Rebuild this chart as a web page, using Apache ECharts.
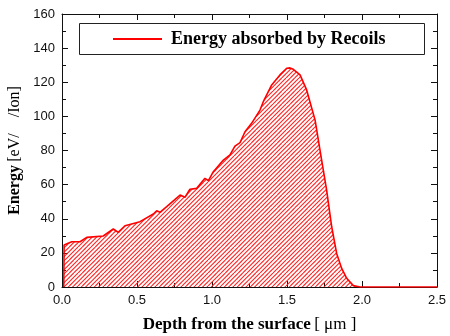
<!DOCTYPE html>
<html>
<head>
<meta charset="utf-8">
<script src="https://cdn.jsdelivr.net/npm/echarts@6/dist/echarts.min.js"></script>
<style>
  html, body { margin: 0; padding: 0; background: #fff; }
  #chart { width: 450px; height: 336px; }
</style>
</head>
<body>
<div id="chart"></div>
<script>
// depth (um) and energy (eV/Ion)
const depth = [0.012, 0.014, 0.065, 0.12, 0.165, 0.275, 0.342, 0.375, 0.42, 0.52, 0.609, 0.631, 0.653, 0.698,
  0.787, 0.82, 0.853, 0.898, 0.953, 0.976, 1.009, 1.076, 1.12, 1.153, 1.187, 1.22, 1.264, 1.32, 1.342,
  1.398, 1.453, 1.498, 1.52, 1.542, 1.587, 1.631, 1.687, 1.731, 1.764, 1.798, 1.831, 1.864, 1.898, 1.942,
  1.987, 2.5]
const energy = [0, 24.6, 26.5, 26.5, 29.1, 29.9, 34, 32, 35.9, 38.3, 42.8, 44.7, 43.8, 47.1,
  53.9, 52.6, 57.3, 57.8, 63.7, 62.3, 67.6, 74.4, 77.4, 82.6, 84.6, 91.0, 95.9, 103.7, 108.6,
  118.4, 124.3, 128.2, 128.4, 127.6, 124.3, 115.5, 97.9, 74.4, 56.9, 35.3, 19.7, 11.0, 5.1, 0.8,
  0, 0]
const seriesName = 'Energy absorbed by Recoils'

// hatch pattern for the area
function makeHatch () {
  const size = 13
  const c = document.createElement('canvas')
  c.width = size
  c.height = size
  const ctx = c.getContext('2d')
  ctx.strokeStyle = '#ff2020'
  ctx.lineWidth = 1.1
  for (let k = -3; k <= 3; k++) {
    const off = k * size / 3
    ctx.beginPath()
    ctx.moveTo(off, size)
    ctx.lineTo(off + size, 0)
    ctx.stroke()
  }
  return c
}

const serif = '"Liberation Serif", "Times New Roman", serif'
const sans = '"Liberation Sans", Arial, sans-serif'
const axisLine = { show: true, onZero: false, lineStyle: { color: '#111', width: 1 } }

const option = {
  animation: false,
  grid: { left: 62, right: 13, top: 14, bottom: 49, show: false, outerBoundsMode: 'none', containLabel: false },
  legend: {
    data: [seriesName],
    left: 113,
    top: 30,
    padding: 0,
    z: 10,
    icon: 'rect',
    itemWidth: 49,
    itemHeight: 2,
    itemGap: 0,
    textStyle: { fontFamily: serif, fontWeight: 'bold', fontSize: 18, color: '#000', padding: [0, 0, 0, 4] }
  },
  graphic: [{
    type: 'rect',
    shape: { x: 79.5, y: 23.5, width: 345, height: 31 },
    style: { fill: '#fff', stroke: '#222', lineWidth: 1 },
    z: 1,
    silent: true
  }],
  xAxis: [
    {
      type: 'value',
      min: 0,
      max: 2.5,
      interval: 0.5,
      position: 'bottom',
      axisLine,
      axisTick: { show: true, inside: true, length: 6, lineStyle: { color: '#111' } },
      minorTick: { show: true, splitNumber: 2, length: 4, lineStyle: { color: '#111' } },
      splitLine: { show: false },
      axisLabel: { color: '#111', fontFamily: sans, fontSize: 13, margin: 7, formatter: v => v.toFixed(1) },
      name: '{b|Depth from the surface} {n|[ μm ]}',
      nameLocation: 'middle',
      nameGap: 29,
      nameTextStyle: {
        rich: {
          b: { fontFamily: serif, fontWeight: 'bold', fontSize: 17, color: '#000' },
          n: { fontFamily: serif, fontSize: 17, color: '#000' }
        }
      }
    },
    {
      type: 'value',
      min: 0,
      max: 2.5,
      interval: 0.5,
      position: 'top',
      axisLine,
      axisTick: { show: true, inside: true, length: 6, lineStyle: { color: '#111' } },
      minorTick: { show: true, splitNumber: 2, length: 4, lineStyle: { color: '#111' } },
      splitLine: { show: false },
      axisLabel: { show: false }
    }
  ],
  yAxis: [
    {
      type: 'value',
      min: 0,
      max: 160,
      interval: 20,
      position: 'left',
      axisLine,
      axisTick: { show: true, inside: true, length: 6, lineStyle: { color: '#111' } },
      minorTick: { show: true, splitNumber: 2, length: 4, lineStyle: { color: '#111' } },
      splitLine: { show: false },
      axisLabel: { color: '#111', fontFamily: sans, fontSize: 13, margin: 7 },
      name: '{b|Energy} {n|[eV/    /Ion]}',
      nameLocation: 'middle',
      nameGap: 34,
      nameRotate: 90,
      nameTextStyle: {
        rich: {
          b: { fontFamily: serif, fontWeight: 'bold', fontSize: 16, color: '#000' },
          n: { fontFamily: serif, fontSize: 16, color: '#000' }
        }
      }
    },
    {
      type: 'value',
      min: 0,
      max: 160,
      interval: 20,
      position: 'right',
      axisLine,
      axisTick: { show: true, inside: true, length: 6, lineStyle: { color: '#111' } },
      minorTick: { show: true, splitNumber: 2, length: 4, lineStyle: { color: '#111' } },
      splitLine: { show: false },
      axisLabel: { show: false }
    }
  ],
  series: [{
    name: seriesName,
    type: 'line',
    data: depth.map((d, i) => [d, energy[i]]),
    showSymbol: false,
    symbol: 'none',
    color: '#ff0000',
    lineStyle: { color: '#ff0000', width: 1.6 },
    areaStyle: { color: { image: makeHatch(), repeat: 'repeat' }, opacity: 1, origin: 'start' },
    z: 2
  }]
}

const chart = echarts.init(document.getElementById('chart'), null, { renderer: 'canvas' })
chart.setOption(option)
</script>
</body>
</html>
